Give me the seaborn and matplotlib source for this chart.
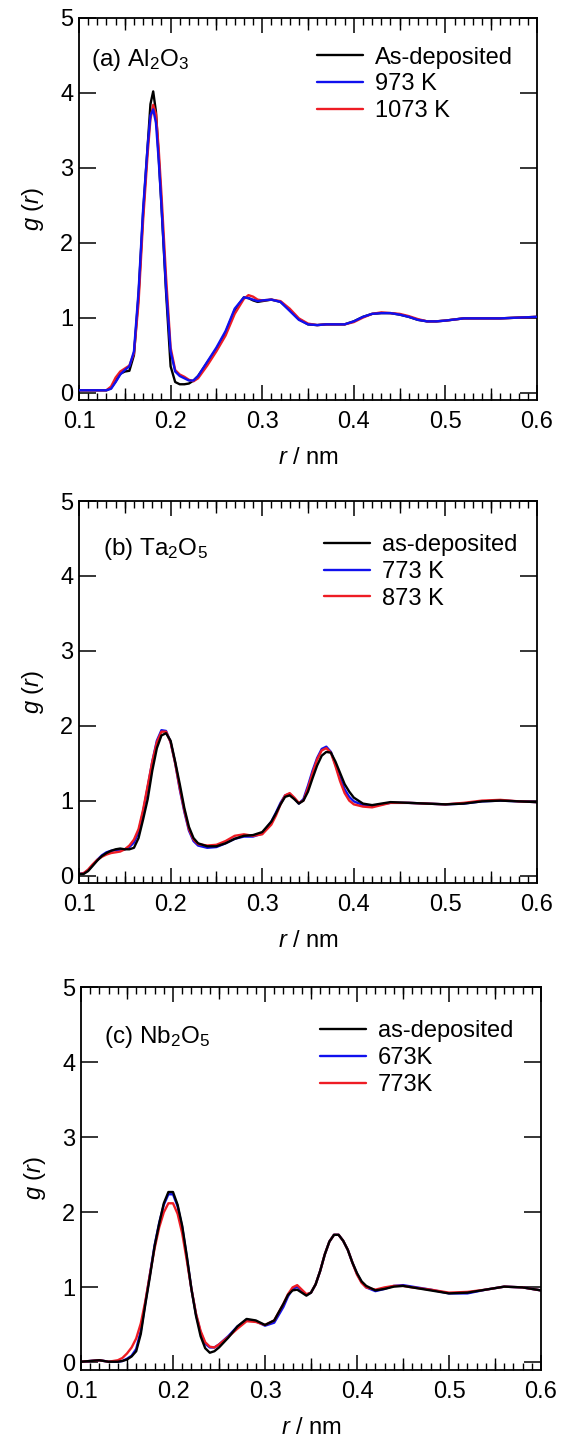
import numpy as np
import matplotlib
matplotlib.use("Agg")
import matplotlib.pyplot as plt
from matplotlib.ticker import MultipleLocator, FixedLocator, NullLocator
import seaborn as sns

# ---------------- data ----------------
r_a = [0.100, 0.110, 0.120, 0.130, 0.135, 0.140, 0.145, 0.150, 0.155, 0.160,
       0.165, 0.170, 0.175, 0.178, 0.181, 0.184, 0.187, 0.190, 0.195, 0.200,
       0.205, 0.210, 0.215, 0.220, 0.225, 0.230, 0.240, 0.250, 0.260, 0.270,
       0.280, 0.285, 0.290, 0.295, 0.300, 0.310, 0.320, 0.330, 0.340, 0.350,
       0.360, 0.370, 0.380, 0.390, 0.400, 0.410, 0.420, 0.430, 0.440, 0.450,
       0.460, 0.470, 0.480, 0.490, 0.500, 0.520, 0.540, 0.560, 0.580, 0.600]
g_a_asdep = [0.03, 0.03, 0.03, 0.03, 0.06, 0.15, 0.25, 0.28, 0.29, 0.50,
             1.30, 2.40, 3.30, 3.85, 4.02, 3.75, 3.15, 2.50, 1.35, 0.35,
             0.14, 0.11, 0.11, 0.12, 0.16, 0.22, 0.40, 0.58, 0.80, 1.10,
             1.27, 1.26, 1.23, 1.21, 1.22, 1.24, 1.21, 1.10, 0.98, 0.91,
             0.90, 0.91, 0.91, 0.91, 0.95, 1.01, 1.05, 1.06, 1.06, 1.04,
             1.01, 0.97, 0.95, 0.95, 0.96, 0.99, 0.99, 0.99, 1.00, 1.01]
g_a_973 = [0.03, 0.03, 0.03, 0.03, 0.05, 0.14, 0.24, 0.30, 0.35, 0.55,
           1.35, 2.45, 3.30, 3.70, 3.78, 3.60, 3.10, 2.50, 1.40, 0.55,
           0.28, 0.22, 0.19, 0.16, 0.16, 0.22, 0.41, 0.60, 0.82, 1.12,
           1.27, 1.26, 1.24, 1.22, 1.23, 1.24, 1.21, 1.09, 0.97, 0.91,
           0.90, 0.91, 0.91, 0.91, 0.95, 1.01, 1.05, 1.06, 1.06, 1.04,
           1.01, 0.97, 0.95, 0.95, 0.96, 0.99, 0.99, 0.99, 1.00, 1.01]
g_a_1073 = [0.03, 0.03, 0.03, 0.03, 0.08, 0.20, 0.28, 0.32, 0.36, 0.52,
            1.20, 2.30, 3.20, 3.65, 3.84, 3.72, 3.25, 2.65, 1.55, 0.60,
            0.30, 0.24, 0.21, 0.17, 0.15, 0.19, 0.36, 0.55, 0.76, 1.05,
            1.25, 1.30, 1.28, 1.24, 1.23, 1.24, 1.22, 1.12, 0.99, 0.92,
            0.90, 0.91, 0.91, 0.91, 0.94, 1.00, 1.05, 1.07, 1.06, 1.05,
            1.02, 0.98, 0.95, 0.95, 0.96, 0.99, 0.99, 0.99, 1.00, 1.01]

r_b = [0.100, 0.105, 0.110, 0.115, 0.120, 0.125, 0.130, 0.135, 0.140, 0.145,
       0.150, 0.155, 0.160, 0.165, 0.170, 0.175, 0.180, 0.185, 0.190, 0.195,
       0.200, 0.205, 0.210, 0.215, 0.220, 0.225, 0.230, 0.240, 0.250, 0.260,
       0.270, 0.280, 0.290, 0.300, 0.310, 0.315, 0.320, 0.325, 0.330, 0.335,
       0.340, 0.345, 0.350, 0.355, 0.360, 0.365, 0.370, 0.375, 0.380, 0.385,
       0.390, 0.395, 0.400, 0.410, 0.420, 0.430, 0.440, 0.460, 0.480, 0.500,
       0.520, 0.540, 0.560, 0.580, 0.600]
g_b_asdep = [0.02, 0.02, 0.06, 0.13, 0.20, 0.26, 0.30, 0.33, 0.35, 0.36,
             0.35, 0.35, 0.37, 0.50, 0.75, 1.02, 1.40, 1.70, 1.87, 1.90,
             1.80, 1.52, 1.22, 0.90, 0.65, 0.50, 0.43, 0.39, 0.39, 0.43,
             0.49, 0.53, 0.54, 0.58, 0.72, 0.83, 0.95, 1.05, 1.07, 1.02,
             0.96, 1.00, 1.12, 1.30, 1.47, 1.60, 1.65, 1.64, 1.52, 1.37,
             1.22, 1.12, 1.04, 0.96, 0.94, 0.96, 0.98, 0.97, 0.96, 0.95,
             0.96, 0.99, 1.00, 0.99, 0.98]
g_b_773 = [0.02, 0.03, 0.07, 0.14, 0.21, 0.27, 0.31, 0.33, 0.34, 0.34,
           0.35, 0.38, 0.44, 0.58, 0.85, 1.18, 1.52, 1.80, 1.94, 1.93,
           1.78, 1.50, 1.15, 0.85, 0.60, 0.46, 0.40, 0.37, 0.38, 0.43,
           0.49, 0.52, 0.52, 0.56, 0.72, 0.84, 0.97, 1.07, 1.09, 1.03,
           0.96, 1.02, 1.20, 1.40, 1.57, 1.69, 1.72, 1.65, 1.48, 1.30,
           1.15, 1.05, 0.99, 0.94, 0.93, 0.95, 0.97, 0.97, 0.96, 0.95,
           0.96, 0.99, 1.00, 0.99, 0.98]
g_b_873 = [0.02, 0.03, 0.08, 0.15, 0.21, 0.25, 0.28, 0.30, 0.31, 0.32,
           0.35, 0.40, 0.48, 0.62, 0.88, 1.20, 1.52, 1.78, 1.92, 1.92,
           1.78, 1.50, 1.17, 0.87, 0.62, 0.48, 0.42, 0.40, 0.41, 0.46,
           0.53, 0.55, 0.53, 0.55, 0.68, 0.80, 0.95, 1.07, 1.10, 1.04,
           0.97, 1.00, 1.17, 1.37, 1.55, 1.67, 1.70, 1.64, 1.46, 1.26,
           1.10, 1.00, 0.95, 0.92, 0.91, 0.94, 0.97, 0.97, 0.96, 0.95,
           0.97, 1.00, 1.01, 0.99, 0.98]

r_c = [0.100, 0.110, 0.120, 0.130, 0.140, 0.145, 0.150, 0.155, 0.160, 0.165,
       0.170, 0.175, 0.180, 0.185, 0.190, 0.195, 0.200, 0.205, 0.210, 0.215,
       0.220, 0.225, 0.230, 0.235, 0.240, 0.245, 0.250, 0.260, 0.270, 0.280,
       0.290, 0.300, 0.310, 0.320, 0.325, 0.330, 0.335, 0.340, 0.345, 0.350,
       0.355, 0.360, 0.365, 0.370, 0.375, 0.380, 0.385, 0.390, 0.395, 0.400,
       0.405, 0.410, 0.420, 0.430, 0.440, 0.450, 0.460, 0.480, 0.500, 0.520,
       0.540, 0.560, 0.580, 0.600]
g_c_asdep = [0.01, 0.02, 0.03, 0.01, 0.01, 0.02, 0.04, 0.08, 0.15, 0.38,
             0.78, 1.15, 1.55, 1.85, 2.12, 2.27, 2.27, 2.10, 1.82, 1.42,
             0.98, 0.62, 0.35, 0.19, 0.13, 0.15, 0.20, 0.33, 0.48, 0.58,
             0.56, 0.50, 0.56, 0.78, 0.90, 0.96, 0.97, 0.93, 0.89, 0.93,
             1.04, 1.22, 1.44, 1.61, 1.70, 1.70, 1.62, 1.50, 1.33, 1.19,
             1.08, 1.02, 0.96, 0.98, 1.01, 1.02, 1.00, 0.96, 0.92, 0.93,
             0.97, 1.01, 1.00, 0.96]
g_c_673 = [0.01, 0.02, 0.03, 0.01, 0.01, 0.02, 0.05, 0.09, 0.18, 0.42,
           0.80, 1.18, 1.56, 1.86, 2.10, 2.24, 2.24, 2.08, 1.80, 1.40,
           0.98, 0.64, 0.40, 0.25, 0.20, 0.20, 0.24, 0.35, 0.48, 0.57,
           0.55, 0.49, 0.53, 0.74, 0.88, 0.98, 1.01, 0.96, 0.90, 0.93,
           1.04, 1.22, 1.44, 1.61, 1.70, 1.70, 1.62, 1.50, 1.33, 1.18,
           1.07, 1.00, 0.95, 0.98, 1.02, 1.03, 1.01, 0.97, 0.92, 0.92,
           0.97, 1.01, 1.00, 0.96]
g_c_773 = [0.01, 0.02, 0.03, 0.01, 0.03, 0.06, 0.12, 0.20, 0.32, 0.52,
           0.82, 1.18, 1.52, 1.80, 2.00, 2.12, 2.12, 1.98, 1.72, 1.36,
           0.98, 0.65, 0.42, 0.27, 0.21, 0.20, 0.24, 0.34, 0.45, 0.55,
           0.54, 0.50, 0.56, 0.78, 0.91, 1.00, 1.03, 0.97, 0.91, 0.93,
           1.04, 1.22, 1.44, 1.61, 1.70, 1.70, 1.62, 1.50, 1.33, 1.17,
           1.06, 1.00, 0.97, 1.00, 1.02, 1.02, 1.00, 0.97, 0.93, 0.94,
           0.97, 1.01, 1.00, 0.96]

panel_titles = ["(a) Al$_2$O$_3$", "(b) Ta$_2$O$_5$", "(c) Nb$_2$O$_5$"]
legend_labels = [["As-deposited", "973 K", "1073 K"],
                 ["as-deposited", "773 K", "873 K"],
                 ["as-deposited", "673K", "773K"]]
x_ticks = [0.1, 0.2, 0.3, 0.4, 0.5, 0.6]
y_ticks = [0, 1, 2, 3, 4, 5]

# ---------------- style ----------------
sns.set_theme(style="ticks")
plt.rcParams["font.family"] = ["Liberation Sans", "DejaVu Sans"]
plt.rcParams["mathtext.fontset"] = "custom"
plt.rcParams["mathtext.rm"] = "Liberation Sans"
plt.rcParams["mathtext.it"] = "Liberation Sans:italic"
plt.rcParams["mathtext.default"] = "regular"
for key in ["text.color", "axes.labelcolor", "xtick.color", "ytick.color",
            "axes.edgecolor", "xtick.labelcolor", "ytick.labelcolor"]:
    plt.rcParams[key] = "black"

BLACK = "#000000"
BLUE = "#1010ee"
RED = "#ee1c24"
COLORS = [BLACK, BLUE, RED]

fig = plt.figure(figsize=(5.61, 14.43), dpi=100)
positions = [
    [79 / 561, (1443 - 400) / 1443, 458 / 561, 382 / 1443],
    [79 / 561, (1443 - 883) / 1443, 458 / 561, 382 / 1443],
    [81 / 561, (1443 - 1370) / 1443, 460 / 561, 383 / 1443],
]
datasets = [
    (r_a, [g_a_asdep, g_a_973, g_a_1073], [1, 3, 2]),
    (r_b, [g_b_asdep, g_b_773, g_b_873], [3, 1, 2]),
    (r_c, [g_c_asdep, g_c_673, g_c_773], [3, 1, 2]),
]
title_pos = [(0.026, 0.89), (0.053, 0.875), (0.05, 0.869)]
legend_pos = [(0.52, 0.925), (0.535, 0.913), (0.52, 0.913)]

FS = 17
for i, (pos, (r, gs, zs)) in enumerate(zip(positions, datasets)):
    ax = fig.add_axes(pos)
    ax2 = ax.twiny()
    for g, c, lab, z in zip(gs, COLORS, legend_labels[i], zs):
        sns.lineplot(x=np.array(r), y=np.array(g), ax=ax, color=c, lw=1.7,
                     label=lab, sort=False, estimator=None, zorder=z)
    h, l = ax.get_legend_handles_labels()
    ax.set_xlim(0.1, 0.6)
    ax.set_ylim(-0.1, 5)
    ax2.set_xlim(0.1, 0.6)

    ax.xaxis.set_major_locator(FixedLocator(x_ticks))
    ax.xaxis.set_minor_locator(MultipleLocator(0.01))
    ax.yaxis.set_major_locator(FixedLocator(y_ticks))
    ax.yaxis.set_minor_locator(NullLocator())
    ax.set_xticklabels(["%.1f" % t for t in x_ticks])
    ax.set_yticklabels([str(t) for t in y_ticks])
    ax.tick_params(axis="x", which="major", direction="in", top=True, bottom=True,
                   length=11, width=1.1, labelsize=FS, pad=8, colors="black")
    ax.tick_params(axis="x", which="minor", direction="in", top=True, bottom=True,
                   length=5, width=1.0, colors="black")
    ax.tick_params(axis="y", which="major", direction="in", left=True, right=True,
                   length=12, width=1.1, labelsize=FS, pad=4, colors="black")

    ax2.xaxis.set_major_locator(FixedLocator([0.15, 0.25, 0.35, 0.45, 0.55]))
    ax2.xaxis.set_minor_locator(NullLocator())
    ax2.tick_params(axis="x", which="major", direction="in", top=True, bottom=True,
                    labeltop=False, labelbottom=False, length=8.5, width=1.0,
                    colors="black")
    for s in ax2.spines.values():
        s.set_visible(False)

    for s in ax.spines.values():
        s.set_visible(True)
        s.set_linewidth(1.3)
        s.set_color("black")

    ax.set_xlabel("$\\mathit{r}$ / nm", fontsize=FS, labelpad=10, color="black")
    ax.set_ylabel("$\\mathit{g}$ ($\\mathit{r}$)", fontsize=FS, labelpad=10, color="black")
    ax.text(title_pos[i][0], title_pos[i][1], panel_titles[i], transform=ax.transAxes,
            fontsize=17.5, va="center", ha="left", color="black")
    leg = ax.legend(h, l, loc="upper left", bbox_to_anchor=legend_pos[i],
                    frameon=False, fontsize=17, handlelength=1.95, handletextpad=0.5,
                    labelspacing=0.2, borderpad=0, borderaxespad=0)
    for t in leg.get_texts():
        t.set_color("black")
    for lh in leg.get_lines():
        lh.set_linewidth(1.7)

fig.savefig("out.png", dpi=100)
